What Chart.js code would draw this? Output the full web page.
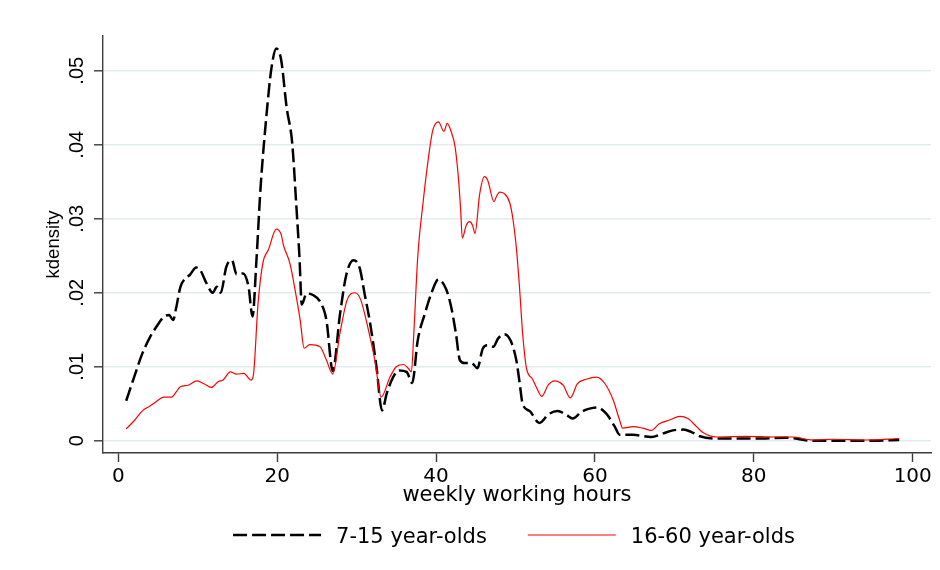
<!DOCTYPE html>
<html>
<head>
<meta charset="utf-8">
<title>Weekly working hours – kernel density</title>
<script src="https://cdn.jsdelivr.net/npm/chart.js@4.4.1/dist/chart.umd.min.js"></script>
<style>
  html, body { margin: 0; padding: 0; background: #ffffff; }
  canvas { display: block; }
</style>
</head>
<body>
<canvas id="kd" width="940" height="570"></canvas>
<script>
// Kernel density estimates of weekly working hours, by age group.
const seriesNames = ['7-15 year-olds', '16-60 year-olds'];

const kidsHours = [1.0, 2.0, 3.0, 4.0, 4.8, 5.7, 6.4, 6.9, 7.3, 7.8, 8.4, 9.0, 9.8, 10.3, 11.1, 11.9, 12.4, 12.9,
  13.6, 14.3, 14.9, 15.7, 16.4, 16.9, 17.4, 17.9, 18.7, 19.3, 19.9, 20.5, 21.2, 21.9, 22.4, 22.8, 23.1, 23.7,
  24.5, 25.4, 26.2, 27.0, 27.9, 28.7, 29.6, 30.4, 31.0, 31.7, 32.5, 33.2, 33.8, 34.6, 35.4, 36.3, 37.0, 37.7,
  38.6, 39.4, 40.3, 41.3, 41.9, 42.5, 43.0, 43.6, 44.5, 45.2, 45.9, 46.5, 47.2, 47.8, 48.6, 49.4, 50.1, 50.5,
  50.9, 51.8, 53.0, 54.2, 55.3, 56.4, 57.2, 58.3, 59.2, 60.2, 61.4, 62.5, 63.1, 64.8, 67.1, 68.6, 69.8, 71.1,
  72.1, 73.2, 75.3, 80.0, 84.1, 87.4, 95.0, 98.3];
const kidsDensity = [.0054, .0086, .0117, .0140, .0154, .0167, .0170, .0163, .0180, .0207, .0219, .0224, .0234, .0231, .0213, .0200, .0208, .0200,
  .0235, .0244, .0225, .0226, .0208, .0168, .0245, .0340, .0445, .0505, .0530, .0515, .0450, .0402, .0320, .0250, .0184, .0199,
  .0197, .0188, .0163, .0094, .0170, .0224, .0244, .0233, .0199, .0159, .0100, .0041, .0064, .0086, .0095, .0093, .0078, .0136,
  .0172, .0199, .0218, .0204, .0181, .0145, .0109, .0105, .0105, .0098, .0125, .0129, .0127, .0138, .0144, .0135, .0109, .0080,
  .0050, .0040, .0024, .0036, .0040, .0035, .0030, .0039, .0043, .0045, .0037, .0019, .0008, .0008, .0005, .0010, .0014, .0015,
  .0012, .0006, .0003, .0003, .0004, .0000, .0000, .0001];

const adultHours = [1.0, 2.0, 3.1, 4.0, 4.8, 5.7, 6.7, 7.3, 7.8, 8.8, 9.9, 10.8, 11.7, 12.6, 13.2, 14.1, 14.9, 15.8,
  16.7, 17.0, 17.6, 18.2, 18.9, 19.9, 20.5, 20.8, 21.6, 22.4, 22.9, 23.4, 24.1, 25.4, 26.2, 27.0, 27.9, 28.8,
  29.8, 30.5, 31.4, 32.3, 33.1, 34.2, 35.0, 35.9, 36.5, 36.9, 37.2, 37.7, 38.4, 39.0, 39.6, 40.3, 41.0, 41.4,
  41.9, 42.4, 42.8, 43.1, 43.3, 43.8, 44.2, 44.6, 44.9, 45.5, 46.1, 46.5, 47.3, 47.6, 48.0, 48.6, 49.3, 49.7,
  50.1, 50.5, 50.9, 51.4, 52.1, 52.6, 53.3, 54.1, 54.9, 56.0, 56.9, 57.8, 58.9, 60.2, 61.2, 62.3, 63.1, 63.5,
  64.8, 66.0, 67.1, 68.1, 69.4, 70.7, 71.7, 72.8, 73.6, 75.3, 79.0, 82.8, 84.9, 87.4, 90.0, 94.0, 98.3];
const adultDensity = [.0016, .0027, .0041, .0047, .0053, .0059, .0059, .0066, .0073, .0075, .0081, .0077, .0072, .0080, .0082, .0093, .0090, .0091,
  .0082, .0088, .0186, .0240, .0258, .0286, .0279, .0264, .0240, .0195, .0163, .0125, .0130, .0127, .0109, .0090, .0145, .0190,
  .0200, .0191, .0154, .0109, .0059, .0086, .0100, .0103, .0098, .0093, .0145, .0249, .0325, .0379, .0420, .0431, .0418, .0429,
  .0418, .0397, .0357, .0312, .0274, .0291, .0296, .0291, .0280, .0334, .0357, .0352, .0323, .0330, .0336, .0334, .0321, .0298,
  .0262, .0208, .0145, .0097, .0084, .0073, .0060, .0075, .0081, .0075, .0058, .0077, .0083, .0086, .0078, .0055, .0028, .0017,
  .0019, .0017, .0014, .0023, .0028, .0033, .0030, .0019, .0011, .0005, .0006, .0005, .0005, .0001, .0002, .0001, .0003];

const xTicks = [0, 20, 40, 60, 80, 100];
const yTicks = [0, 0.01, 0.02, 0.03, 0.04, 0.05];

const toPoints = (xs, ys) => xs.map((x, i) => ({ x: x, y: ys[i] }));

// y labels in the ".01" style, 0 kept bare
function densityLabel(v) {
  if (Math.abs(v) < 1e-9) return '0';
  return v.toFixed(2).replace(/^0/, '');
}

const horizFont = 'DejaVu Sans';
const vertFont = 'Liberation Sans';

// Rotated y tick labels, reading bottom to top
const rotatedYLabels = {
  id: 'rotatedYLabels',
  afterDraw(chart) {
    const s = chart.scales.y;
    const ctx = chart.ctx;
    ctx.save();
    ctx.font = '20px "' + vertFont + '"';
    ctx.fillStyle = '#000';
    ctx.textAlign = 'center';
    ctx.textBaseline = 'alphabetic';
    s.ticks.forEach(t => {
      const py = s.getPixelForValue(t.value);
      ctx.save();
      ctx.translate(s.right - 20, py);
      ctx.rotate(-Math.PI / 2);
      ctx.fillText(densityLabel(t.value), 0, 0);
      ctx.restore();
    });
    ctx.restore();
  }
};

// Legend row under the axis title, built from the dataset styles
const bottomLegend = {
  id: 'bottomLegend',
  afterDraw(chart) {
    const ctx = chart.ctx;
    const area = chart.chartArea;
    const lineLen = 88, textGap = 15, itemGap = 41;
    const lineY = 535, baseY = 542.5;
    ctx.save();
    ctx.font = '21px "' + horizFont + '"';
    const items = chart.data.datasets.slice().sort((a, b) => a.legendIndex - b.legendIndex);
    const widths = items.map(d => ctx.measureText(d.label).width);
    const total = widths.reduce((a, w) => a + lineLen + textGap + w, 0) + itemGap * (items.length - 1);
    let x = (area.left + area.right) / 2 - 3 - total / 2;
    items.forEach((d, i) => {
      ctx.save();
      ctx.strokeStyle = d.borderColor;
      ctx.lineWidth = d.borderWidth;
      ctx.setLineDash(d.borderDash || []);
      ctx.beginPath();
      ctx.moveTo(x, lineY);
      ctx.lineTo(x + lineLen, lineY);
      ctx.stroke();
      ctx.restore();
      ctx.fillStyle = '#000';
      ctx.textAlign = 'left';
      ctx.textBaseline = 'alphabetic';
      ctx.fillText(d.label, x + lineLen + textGap, baseY);
      x += lineLen + textGap + widths[i] + itemGap;
    });
    ctx.restore();
  }
};

const axisColor = '#3c3c3c';
const gridColor = 'rgb(226,235,239)';

new Chart(document.getElementById('kd'), {
  type: 'line',
  data: {
    datasets: [
      {
        label: seriesNames[0],
        legendIndex: 0,
        data: toPoints(kidsHours, kidsDensity),
        borderColor: '#000000',
        borderWidth: 2.5,
        borderDash: [14, 5],
        pointRadius: 0,
        fill: false,
        cubicInterpolationMode: 'monotone',
        order: 1
      },
      {
        label: seriesNames[1],
        legendIndex: 1,
        data: toPoints(adultHours, adultDensity),
        borderColor: '#ff0000',
        borderWidth: 1.2,
        pointRadius: 0,
        fill: false,
        cubicInterpolationMode: 'monotone',
        order: 0
      }
    ]
  },
  options: {
    responsive: false,
    devicePixelRatio: 1,
    animation: false,
    events: [],
    layout: { padding: { top: 36, right: 9, bottom: 57, left: 0 } },
    plugins: {
      legend: { display: false },
      tooltip: { enabled: false }
    },
    scales: {
      x: {
        type: 'linear',
        min: -1.92,
        max: 102.3,
        afterBuildTicks(s) { s.ticks = xTicks.map(v => ({ value: v })); },
        afterFit(s) { s.height = 60; },
        ticks: {
          includeBounds: false,
          padding: 3,
          color: '#000',
          font: { family: horizFont, size: 20 },
          maxRotation: 0,
          callback: v => String(v)
        },
        grid: {
          display: true,
          drawOnChartArea: false,
          drawTicks: true,
          tickLength: 9,
          tickColor: axisColor,
          tickWidth: 1.4
        },
        border: { display: true, color: axisColor, width: 1.4 },
        title: {
          display: true,
          text: 'weekly working hours',
          color: '#000',
          font: { family: horizFont, size: 21 },
          padding: { top: 0, bottom: 4.7 }
        }
      },
      y: {
        type: 'linear',
        min: -0.00166,
        max: 0.0547,
        afterBuildTicks(s) { s.ticks = yTicks.map(v => ({ value: v })); },
        afterFit(s) { s.width = 103; },
        ticks: {
          display: false,
          includeBounds: false
        },
        grid: {
          display: true,
          color: gridColor,
          lineWidth: 1.6,
          drawTicks: true,
          tickLength: 9,
          tickColor: axisColor,
          tickWidth: 1.4
        },
        border: { display: true, color: axisColor, width: 1.4 },
        title: {
          display: true,
          text: 'kdensity',
          color: '#000',
          font: { family: vertFont, size: 18.5 },
          padding: { top: 42.5, bottom: 0 }
        }
      }
    }
  },
  plugins: [rotatedYLabels, bottomLegend]
});
</script>
</body>
</html>
